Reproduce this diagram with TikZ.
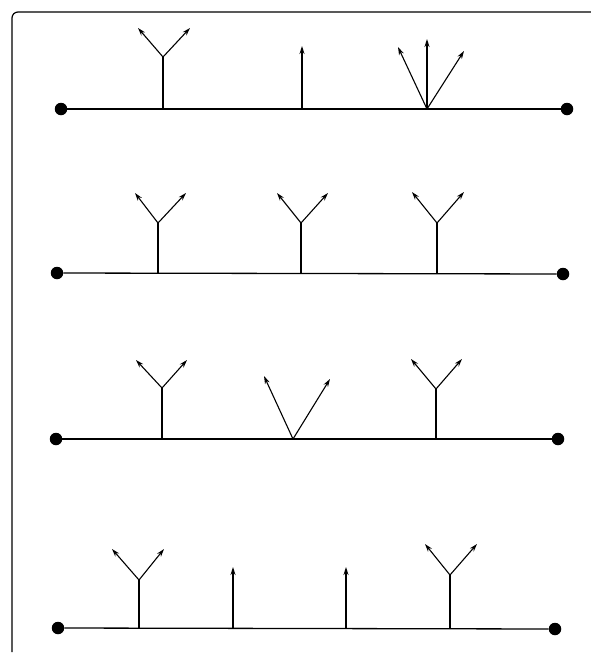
\documentclass[tikz,border=0pt]{standalone}
\usetikzlibrary{arrows.meta}
\begin{document}
\begin{tikzpicture}[x=1pt,y=-1pt,
  base/.style={line width=1.3pt,black},
  stem/.style={line width=1.1pt,black},
  arr/.style={line width=1.1pt,black,-{Stealth[length=8pt,width=5pt]}},
  dot/.style={circle,fill=black,inner sep=0pt,minimum size=12.5pt},
  frame/.style={line width=1.2pt,black,rounded corners=6pt}]
\useasboundingbox (0,0) rectangle (591,654);
% frame
\coordinate (fb) at (12,652);
\coordinate (fc) at (12,12);
\coordinate (fr) at (591,12);
\draw[frame] (fb) -- (fc) -- (fr);

% ---------- Row 1 ----------
\node[dot] (d1l) at (61,109) {};
\node[dot] (d1r) at (567,109) {};
\draw[base] (d1l) -- (d1r);
\coordinate (a1b) at (163,109); \coordinate (a1j) at (163,57);
\coordinate (a1l) at (138,28); \coordinate (a1r) at (190,28);
\draw[stem] (a1b) -- (a1j);
\draw[arr] (a1j) -- (a1l); \draw[arr] (a1j) -- (a1r);
\coordinate (b1b) at (302,109); \coordinate (b1t) at (302,46);
\draw[arr] (b1b) -- (b1t);
\coordinate (c1v) at (427,109);
\coordinate (c1l) at (398,47); \coordinate (c1m) at (427,39); \coordinate (c1r) at (464,51);
\draw[arr] (c1v) -- (c1l); \draw[arr] (c1v) -- (c1m); \draw[arr] (c1v) -- (c1r);

% ---------- Row 2 ----------
\node[dot] (d2l) at (57,273) {};
\node[dot] (d2r) at (563,274) {};
\draw[base] (d2l) -- (d2r);
\coordinate (a2b) at (158,273); \coordinate (a2j) at (158,223);
\coordinate (a2l) at (135,193); \coordinate (a2r) at (186,193);
\draw[stem] (a2b) -- (a2j);
\draw[arr] (a2j) -- (a2l); \draw[arr] (a2j) -- (a2r);
\coordinate (b2b) at (301,273); \coordinate (b2j) at (301,223);
\coordinate (b2l) at (277,193); \coordinate (b2r) at (328,193);
\draw[stem] (b2b) -- (b2j);
\draw[arr] (b2j) -- (b2l); \draw[arr] (b2j) -- (b2r);
\coordinate (c2b) at (437,274); \coordinate (c2j) at (437,223);
\coordinate (c2l) at (412,192); \coordinate (c2r) at (464,192);
\draw[stem] (c2b) -- (c2j);
\draw[arr] (c2j) -- (c2l); \draw[arr] (c2j) -- (c2r);

% ---------- Row 3 ----------
\node[dot] (d3l) at (56,439) {};
\node[dot] (d3r) at (558,439) {};
\draw[base] (d3l) -- (d3r);
\coordinate (a3b) at (162,439); \coordinate (a3j) at (162,388);
\coordinate (a3l) at (136,360); \coordinate (a3r) at (187,360);
\draw[stem] (a3b) -- (a3j);
\draw[arr] (a3j) -- (a3l); \draw[arr] (a3j) -- (a3r);
\coordinate (b3v) at (293,439);
\coordinate (b3l) at (264,376); \coordinate (b3r) at (330,379);
\draw[arr] (b3v) -- (b3l); \draw[arr] (b3v) -- (b3r);
\coordinate (c3b) at (436,439); \coordinate (c3j) at (436,389);
\coordinate (c3l) at (411,359); \coordinate (c3r) at (462,359);
\draw[stem] (c3b) -- (c3j);
\draw[arr] (c3j) -- (c3l); \draw[arr] (c3j) -- (c3r);

% ---------- Row 4 ----------
\node[dot] (d4l) at (58,628) {};
\node[dot] (d4r) at (555,629) {};
\draw[base] (d4l) -- (d4r);
\coordinate (a4b) at (139,628); \coordinate (a4j) at (139,580);
\coordinate (a4l) at (112,549); \coordinate (a4r) at (164,549);
\draw[stem] (a4b) -- (a4j);
\draw[arr] (a4j) -- (a4l); \draw[arr] (a4j) -- (a4r);
\coordinate (b4b) at (233,628); \coordinate (b4t) at (233,567);
\draw[arr] (b4b) -- (b4t);
\coordinate (c4b) at (346,628); \coordinate (c4t) at (346,567);
\draw[arr] (c4b) -- (c4t);
\coordinate (e4b) at (450,628); \coordinate (e4j) at (450,575);
\coordinate (e4l) at (425,544); \coordinate (e4r) at (477,544);
\draw[stem] (e4b) -- (e4j);
\draw[arr] (e4j) -- (e4l); \draw[arr] (e4j) -- (e4r);
\end{tikzpicture}
\end{document}
